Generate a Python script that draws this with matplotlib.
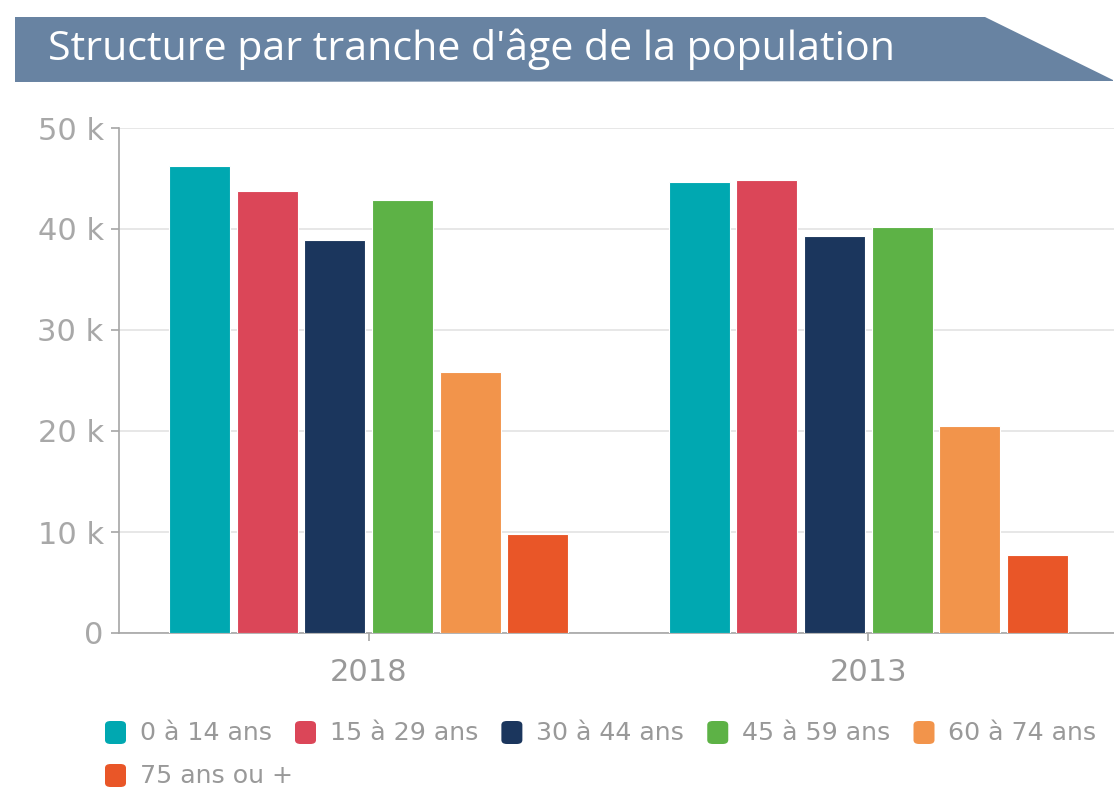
import matplotlib
matplotlib.use("Agg")
import matplotlib.pyplot as plt
from matplotlib.patches import Polygon, FancyBboxPatch
from matplotlib.ticker import FuncFormatter
import numpy as np

title = "Structure par tranche d'âge de la population"
years = ["2018", "2013"]
age_groups = ["0 à 14 ans", "15 à 29 ans", "30 à 44 ans", "45 à 59 ans", "60 à 74 ans", "75 ans ou +"]
values_2018 = [46200, 43800, 38900, 42900, 25800, 9800]
values_2013 = [44700, 44900, 39300, 40200, 20500, 7700]
colors = ["#00a8b1", "#db4658", "#1b365d", "#5db246", "#f2944b", "#e95628"]

W, H = 1114, 787
fig = plt.figure(figsize=(W / 100, H / 100), dpi=100)
fig.canvas.draw()
renderer = fig.canvas.get_renderer()

# Title banner
banner = Polygon([[15 / W, 1 - 17 / H], [985 / W, 1 - 17 / H], [1113 / W, 1 - 80 / H],
                  [1113 / W, 1 - 81 / H], [15 / W, 1 - 82 / H]],
                 closed=True, transform=fig.transFigure, facecolor="#6883a2", edgecolor="none")
fig.patches.append(banner)
tt = fig.text(48 / W, 1 - 49 / H, title, color="white", fontsize=25, family="Open Sans",
              va="center", ha="left")
w0 = tt.get_window_extent(renderer).width
tt.set_fontsize(25 * 849 / w0)

ax = fig.add_axes([119 / W, (H - 633) / H, 999 / W, (633 - 128) / H])
data = np.array([values_2018, values_2013])
x = np.arange(len(years))
bw = 0.122
step = 0.1355
for i, (g, c) in enumerate(zip(age_groups, colors)):
    ax.bar(x + (i - 2.5) * step, data[:, i], width=bw, color=c, edgecolor="white",
           linewidth=0.8, zorder=3)

ax.set_xlim(-0.5, 1.5)
ax.set_ylim(0, 50000)
ax.set_yticks([0, 10000, 20000, 30000, 40000, 50000])
ax.yaxis.set_major_formatter(FuncFormatter(lambda v, p: "0" if v == 0 else f"{int(v/1000)} k"))
ax.set_xticks(x)
ax.set_xticklabels(years)
ax.grid(axis="y", color="#e3e3e3", linewidth=1.2, zorder=0)
for s in ["top", "right"]:
    ax.spines[s].set_visible(False)
for s in ["left", "bottom"]:
    ax.spines[s].set_color("#a6a6a6")
    ax.spines[s].set_linewidth(1.2)
ax.tick_params(axis="y", colors="#a6a6a6", labelcolor="#a8a8a8", labelsize=22, length=6, width=1.2, pad=5)
ax.tick_params(axis="x", colors="#a6a6a6", labelcolor="#999999", labelsize=22, length=6, width=1.2, pad=12)

# Legend (manual, wrapping)
xpos, ypos = 105, 733
row_h = 43
for g, c in zip(age_groups, colors):
    t = fig.text(0, 0, g, fontsize=18.2, color="#999999", va="center", ha="left")
    bb = t.get_window_extent(renderer)
    wtxt = bb.width
    if xpos + 35 + wtxt > W:
        xpos = 105
        ypos += row_h
    sq = FancyBboxPatch(((xpos) / W, 1 - (ypos + 11) / H), 21 / W, 23 / H,
                        boxstyle="round,pad=0,rounding_size=0.005", transform=fig.transFigure,
                        facecolor=c, edgecolor="none")
    fig.patches.append(sq)
    t.set_position(((xpos + 35) / W, 1 - ypos / H))
    xpos += 35 + wtxt + 23

fig.savefig("out.png", dpi=100)
